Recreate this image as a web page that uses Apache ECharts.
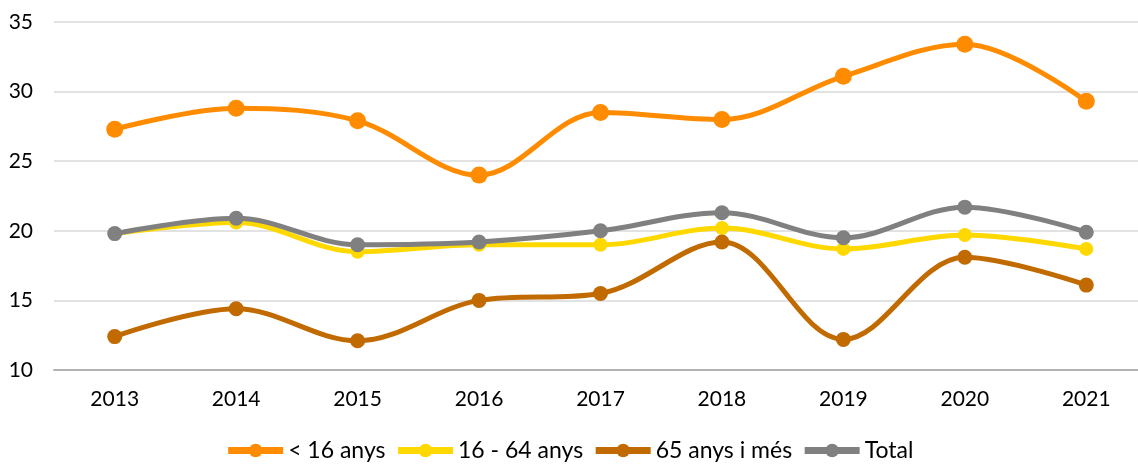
<!DOCTYPE html>
<html>
<head>
<meta charset="utf-8">
<script src="https://cdn.jsdelivr.net/npm/echarts@6/dist/echarts.min.js"></script>
<style>
  html, body { margin: 0; padding: 0; background: #fff; }
  #main { width: 1138px; height: 464px; }
</style>
</head>
<body>
<div id="main"></div>
<script>
var years = ['2013', '2014', '2015', '2016', '2017', '2018', '2019', '2020', '2021'];
var menors16 = [27.3, 28.8, 27.9, 24.0, 28.5, 28.0, 31.1, 33.4, 29.3];
var de16a64 = [19.8, 20.6, 18.5, 19.0, 19.0, 20.2, 18.7, 19.7, 18.7];
var majors65 = [12.4, 14.4, 12.1, 15.0, 15.5, 19.2, 12.2, 18.1, 16.1];
var total = [19.8, 20.9, 19.0, 19.2, 20.0, 21.3, 19.5, 21.7, 19.9];

var chart = echarts.init(document.getElementById('main'));

function serie(name, data, color, size) {
    return {
        name: name,
        type: 'line',
        data: data,
        smooth: 0.35,
        symbol: 'circle',
        symbolSize: size,
        lineStyle: { width: 5, color: color },
        itemStyle: { color: color }
    };
}

chart.setOption({
    animation: false,
    textStyle: { fontFamily: 'Lato, sans-serif' },
    grid: { left: 54, width: 1093, top: 22, bottom: 94, outerBoundsMode: 'none' },
    legend: {
        top: 434,
        left: 'center',
        itemWidth: 55,
        itemHeight: 17,
        itemGap: 9,
        lineStyle: { width: 7 },
        textStyle: { fontSize: 23, color: '#000' },
        data: ['< 16 anys', '16 - 64 anys', '65 anys i més', 'Total']
    },
    xAxis: {
        type: 'category',
        data: years,
        boundaryGap: true,
        axisLine: { lineStyle: { color: '#b3b3b3', width: 2 } },
        axisTick: { show: false },
        axisLabel: { fontSize: 21, color: '#000', margin: 19 }
    },
    yAxis: {
        type: 'value',
        min: 10,
        max: 35,
        interval: 5,
        axisLine: { show: false },
        axisTick: { show: false },
        axisLabel: { fontSize: 21, color: '#000', margin: 21 },
        splitLine: { lineStyle: { color: '#d9d9d9', width: 1.5 } }
    },
    series: [
        serie('< 16 anys', menors16, '#ff8c00', 17),
        serie('16 - 64 anys', de16a64, '#ffd800', 14),
        serie('65 anys i més', majors65, '#c06a00', 15),
        serie('Total', total, '#808080', 15)
    ]
});
</script>
</body>
</html>
